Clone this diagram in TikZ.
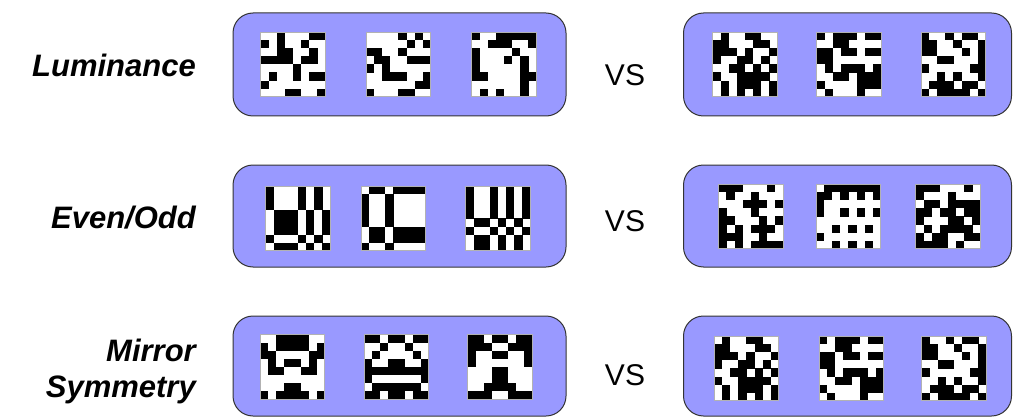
\documentclass[tikz,border=0pt]{standalone}
\usepackage{fontspec}
\setmainfont{Liberation Sans}
\definecolor{boxblue}{HTML}{9999FF}
\definecolor{boxline}{HTML}{333333}
\newcommand\drawpattern[3]{%
  \fill[white] (#1,#2) rectangle ++(64.8,64.8);
  \foreach \rw [count=\r from 0] in {#3}{%
    \foreach \b [count=\c from 0] in \rw{%
      \ifnum\b=1 \fill[black] ({#1+\c*8.1},{#2+\r*8.1}) rectangle ++(8.2,8.2);\fi
    }}
  \draw[gray!60, line width=0.7pt] (#1,#2) rectangle ++(64.8,64.8);
}
\begin{document}
\begin{tikzpicture}[x=1pt,y=-1pt,
  box/.style={draw=boxline, fill=boxblue, rounded corners=20pt, line width=1pt, inner sep=0pt},
  lab/.style={font=\fontsize{31}{36}\selectfont\bfseries\itshape, inner sep=0pt},
  vs/.style={font=\fontsize{30}{34}\selectfont, inner sep=0pt}]
\useasboundingbox (0,0) rectangle (1014,417);
% boxes
\node[box, minimum width=333pt, minimum height=103pt] (bl1) at (399.5,64.5) {};
\node[box, minimum width=328pt, minimum height=103pt] (br1) at (847.5,64.5) {};
\node[box, minimum width=333pt, minimum height=102pt] (bl2) at (399.5,216) {};
\node[box, minimum width=328pt, minimum height=102pt] (br2) at (847.5,216) {};
\node[box, minimum width=333pt, minimum height=100pt] (bl3) at (399.5,366) {};
\node[box, minimum width=328pt, minimum height=100pt] (br3) at (847.5,366) {};
% labels
\node[lab, anchor=base east] (l1) at (196,77) {Luminance};
\node[lab, anchor=base east] (l2) at (196,228) {Even/Odd};
\node[lab, anchor=east, align=right] (l3) at (196,371) {Mirror\\Symmetry};
\node[vs] (v1) at (625,75) {VS};
\node[vs] (v2) at (625,221) {VS};
\node[vs] (v3) at (625,375) {VS};
% row 1 left: luminance
\drawpattern{260.7}{32}{{0,0,1,0,0,0,1,1},{1,0,1,0,0,1,0,0},{0,0,1,1,0,0,1,0},{1,1,1,1,0,1,1,0},{0,0,0,0,1,0,0,0},{0,1,0,0,1,0,1,1},{1,0,0,0,0,0,0,0},{0,0,0,1,1,0,0,1}}
\drawpattern{366}{32}{{0,0,0,0,1,0,1,0},{0,0,0,0,0,1,0,1},{1,1,0,0,1,0,0,0},{0,1,1,0,0,1,1,1},{1,0,1,0,0,0,0,0},{0,0,1,1,1,0,0,1},{0,0,0,0,0,0,1,1},{1,0,0,0,1,1,0,0}}
\drawpattern{471.7}{32}{{1,0,0,1,1,1,1,1},{0,0,1,1,1,0,0,1},{1,0,0,0,0,1,0,0},{1,0,0,0,1,0,1,0},{1,0,0,0,0,0,1,0},{1,1,0,0,0,0,1,1},{0,0,0,0,0,0,1,0},{0,1,0,1,0,0,1,0}}
% row 1 right: random
\drawpattern{712.7}{32}{{0,1,0,0,1,1,0,0},{1,1,0,0,0,1,1,0},{1,1,1,0,1,0,0,1},{1,0,0,1,1,0,1,0},{0,0,1,1,0,1,0,1},{1,0,0,1,1,1,1,0},{0,1,0,1,1,1,0,1},{0,1,0,1,0,1,0,1}}
\drawpattern{816.7}{32}{{1,0,1,1,1,0,1,1},{0,0,1,1,0,0,0,0},{1,1,0,1,1,0,1,1},{1,1,0,0,0,0,0,0},{0,1,0,1,1,1,0,1},{0,0,1,1,0,1,1,1},{1,0,0,0,0,1,1,1},{0,1,0,0,0,1,0,0}}
\drawpattern{921}{32}{{1,0,0,1,0,1,1,0},{1,1,0,0,1,0,0,1},{1,1,0,0,0,1,0,1},{0,0,1,1,0,0,0,1},{1,0,0,0,0,0,1,1},{0,0,1,0,1,0,0,1},{0,1,1,1,0,1,1,0},{1,0,1,1,1,1,0,1}}
% row 2 left: even/odd
\drawpattern{265.7}{186}{{1,0,0,0,1,0,1,0},{1,0,0,0,1,0,1,0},{1,0,0,0,1,0,1,0},{0,1,1,1,0,1,0,1},{0,1,1,1,0,1,0,1},{0,1,1,1,0,1,0,1},{1,0,0,0,1,0,1,0},{0,1,1,1,0,1,0,1}}
\drawpattern{361}{186}{{0,1,1,0,1,1,1,1},{1,0,0,1,0,0,0,0},{1,0,0,1,0,0,0,0},{1,0,0,1,0,0,0,0},{1,0,0,1,0,0,0,0},{0,1,1,0,1,1,1,1},{0,1,1,0,1,1,1,1},{1,0,0,1,0,0,0,0}}
\drawpattern{465.7}{186}{{1,0,0,1,0,1,0,1},{1,0,0,1,0,1,0,1},{1,0,0,1,0,1,0,1},{1,0,0,1,0,1,0,1},{0,1,1,0,1,0,1,0},{1,0,0,1,0,1,0,1},{0,1,1,0,1,0,1,0},{0,1,1,0,1,0,1,0}}
% row 2 right
\drawpattern{718.3}{184}{{1,1,1,0,0,0,1,0},{0,1,0,0,1,0,0,0},{0,0,0,1,1,1,0,1},{1,0,0,0,1,0,0,0},{1,1,0,0,0,1,0,1},{1,0,1,0,1,1,1,0},{1,1,1,0,0,1,0,0},{1,0,1,0,1,1,1,1}}
\drawpattern{816}{184}{{0,1,1,1,1,1,1,1},{1,1,0,1,0,1,0,1},{1,0,0,0,0,0,0,0},{1,0,0,1,0,1,0,1},{0,0,0,0,0,0,0,0},{0,0,1,0,1,0,1,0},{1,0,0,0,0,0,0,0},{0,0,1,0,1,0,1,0}}
\drawpattern{915.7}{184}{{1,1,1,0,0,0,1,0},{1,0,0,0,1,0,0,0},{0,1,1,0,1,1,1,1},{1,1,0,1,1,0,1,1},{1,0,0,0,1,1,0,1},{0,1,0,1,1,1,1,0},{1,0,1,1,0,0,1,1},{1,1,1,1,0,1,0,0}}
% row 3 left: mirror symmetry
\drawpattern{260}{334.5}{{0,0,1,1,1,1,0,0},{1,0,1,1,1,1,0,1},{1,1,0,0,0,0,1,1},{0,1,0,1,1,0,1,0},{0,1,1,0,0,1,1,0},{0,0,0,0,0,0,0,0},{0,0,0,1,1,0,0,0},{1,0,1,1,1,1,0,1}}
\drawpattern{364}{334.5}{{1,1,0,1,1,0,1,1},{0,0,1,0,0,1,0,0},{0,1,0,0,0,0,1,0},{1,0,0,1,1,0,0,1},{1,1,1,1,1,1,1,1},{1,0,0,0,0,0,0,1},{0,1,1,1,1,1,1,0},{1,1,0,1,1,0,1,1}}
\drawpattern{467.7}{334.5}{{1,1,0,1,1,0,1,1},{1,1,1,0,0,1,1,1},{1,0,0,1,1,0,0,1},{1,0,0,0,0,0,0,1},{0,0,0,1,1,0,0,0},{0,0,0,1,1,0,0,0},{0,0,1,1,1,1,0,0},{1,1,1,0,0,1,1,1}}
% row 3 right: random
\drawpattern{714}{336}{{0,1,0,0,1,1,0,0},{1,1,0,0,0,1,1,0},{1,1,1,0,1,0,0,1},{1,0,0,1,1,0,1,0},{0,0,1,1,0,1,0,1},{1,0,0,1,1,1,1,0},{0,1,0,1,1,1,0,1},{0,1,0,1,0,1,0,1}}
\drawpattern{819}{336}{{1,0,1,1,1,0,1,1},{0,0,1,1,0,0,0,0},{1,1,0,1,1,0,1,1},{1,1,0,0,0,0,0,0},{0,1,0,1,1,1,0,1},{0,0,1,1,0,1,1,1},{1,0,0,0,0,1,1,1},{0,1,0,0,0,1,0,0}}
\drawpattern{921.7}{336}{{1,0,0,1,0,1,1,0},{1,1,0,0,1,0,0,1},{1,1,0,0,0,1,0,1},{0,0,1,1,0,0,0,1},{1,0,0,0,0,0,1,1},{0,0,1,0,1,0,0,1},{0,1,1,1,0,1,1,0},{1,0,1,1,1,1,0,1}}
\end{tikzpicture}
\end{document}
